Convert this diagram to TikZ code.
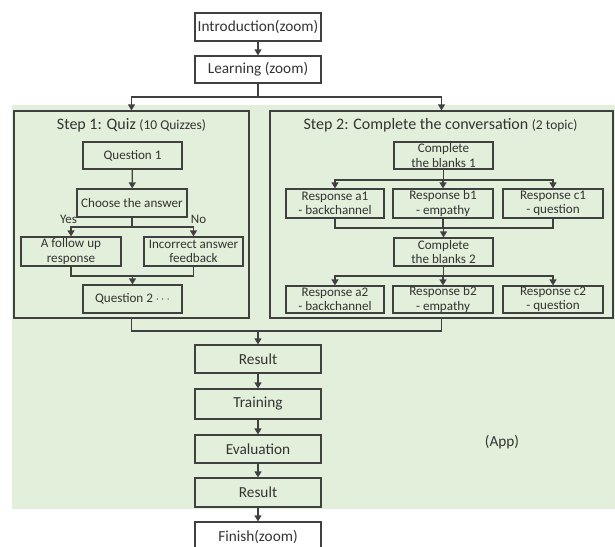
\documentclass[tikz,border=0pt]{standalone}
\usepackage{fontspec}
\setmainfont{Carlito}
\usetikzlibrary{arrows.meta}
\definecolor{linec}{HTML}{404040}
\definecolor{txtc}{HTML}{333333}
\definecolor{bggreen}{HTML}{E2EFDA}
\tikzset{
  box/.style={draw=linec, line width=1.2pt, inner sep=0pt, align=center, text=txtc,
    font=\fontsize{15.3}{18}\selectfont},
  sbox/.style={box, font=\fontsize{13.1}{14.4}\selectfont},
  frame/.style={draw=linec, line width=1.2pt, inner sep=0pt},
  conn/.style={draw=linec, line width=1.2pt},
  arr/.style={conn, -{Triangle[length=6pt,width=7pt]}},
  lbl/.style={text=txtc, inner sep=0pt},
}
\begin{document}
\begin{tikzpicture}[x=1pt,y=-1pt]
\useasboundingbox (0,0) rectangle (615,546);
\clip (0,0) rectangle (615,546);
% background
\fill[bggreen] (12,105) rectangle (615,509);

% top column
\node[box, minimum width=126pt, minimum height=28pt] (intro) at (258,27) {Introduction(zoom)};
\node[box, minimum width=126pt, minimum height=27pt] (learn) at (258,69.5) {Learning (zoom)};

% step frames
\node[frame, minimum width=235pt, minimum height=207pt] (step1) at (131.5,214.5) {};
\node[frame, minimum width=343pt, minimum height=207pt] (step2) at (441.5,214.5) {};
\node[lbl] (t1) at (131.5,125) {\fontsize{16}{19}\selectfont Step 1: Quiz {\fontsize{13.5}{16}\selectfont (10 Quizzes)}};
\node[lbl] (t2) at (440.5,125) {\fontsize{16}{19}\selectfont Step 2: Complete the conversation {\fontsize{13.5}{16}\selectfont (2 topic)}};

% step 1 contents
\node[sbox, minimum width=99pt, minimum height=27pt] (q1) at (132.5,155.5) {Question 1};
\node[sbox, minimum width=110pt, minimum height=28pt] (choose) at (132,203) {Choose the answer};
\node[sbox, minimum width=100pt, minimum height=29pt] (follow) at (71,251.5) {A follow up\\response};
\node[sbox, minimum width=99pt, minimum height=29pt] (incorr) at (193.5,251.5) {Incorrect answer\\feedback};
\node[sbox, minimum width=99pt, minimum height=28pt] (q2) at (132.5,299) {Question 2 \raisebox{0.5pt}{$\cdots$}};
\node[lbl, font=\fontsize{13}{15}\selectfont] (yes) at (68.5,219.5) {Yes};
\node[lbl, font=\fontsize{13}{15}\selectfont] (no) at (198.5,219.5) {No};

% step 2 contents
\node[sbox, minimum width=99pt, minimum height=27pt] (cb1) at (443.5,155.5) {Complete\\the blanks 1};
\node[sbox, minimum width=98pt, minimum height=29pt] (a1) at (335,203.5) {Response a1\\- backchannel};
\node[sbox, minimum width=100pt, minimum height=29pt] (b1) at (443,203.5) {Response b1\\- empathy};
\node[sbox, minimum width=100pt, minimum height=29pt] (c1) at (553,203.5) {Response c1\\- question};
\node[sbox, minimum width=99pt, minimum height=28pt] (cb2) at (443.5,252) {Complete\\the blanks 2};
\node[sbox, minimum width=98pt, minimum height=27pt] (a2) at (335,299.5) {Response a2\\- backchannel};
\node[sbox, minimum width=100pt, minimum height=27pt] (b2) at (443,299.5) {Response b2\\- empathy};
\node[sbox, minimum width=100pt, minimum height=27pt] (c2) at (553,299.5) {Response c2\\- question};

% bottom column
\node[box, minimum width=126pt, minimum height=28pt] (res1) at (258,359) {Result};
\node[box, minimum width=126pt, minimum height=30pt] (train) at (258,404) {Training};
\node[box, minimum width=126pt, minimum height=28pt] (eval) at (258,449) {Evaluation};
\node[box, minimum width=126pt, minimum height=29pt] (res2) at (258,492.5) {Result};
\node[box, minimum width=126pt, minimum height=30pt] (finish) at (258,537) {Finish(zoom)};
\node[lbl, font=\fontsize{15.3}{18}\selectfont] (app) at (502,442) {(App)};

% connectors: top
\draw[arr] (intro) -- (learn);
\coordinate (sp) at (258,97);
\draw[conn] (learn.south) -- (sp);
\draw[arr] (sp) -| (step1.north);
\draw[arr] (sp) -| (step2.north);

% step 1
\draw[arr] (q1) -- (choose);
\coordinate (br1) at (132,227);
\draw[conn] (choose.south) -- (br1);
\draw[arr] (br1) -| (follow.north);
\draw[arr] (br1) -| (incorr.north);
\coordinate (mg1) at (132.5,276);
\draw[conn] (follow.south) |- (mg1) -| (incorr.south);
\draw[arr] (mg1) -- (q2.north);

% step 2
\coordinate (br2) at (443.5,180);
\draw[conn] (cb1.south) -- (br2);
\draw[arr] (br2) -| (a1.north);
\draw[arr] (br2) -| (b1.north);
\draw[arr] (br2) -| (c1.north);
\coordinate (mg2) at (443.5,228);
\draw[conn] (a1.south) |- (mg2) -| (c1.south);
\draw[conn] (b1.south) -- (b1.south |- mg2);
\draw[arr] (mg2) -- (cb2.north);
\coordinate (br3) at (443.5,276);
\draw[conn] (cb2.south) -- (br3);
\draw[arr] (br3) -| (a2.north);
\draw[arr] (br3) -| (b2.north);
\draw[arr] (br3) -| (c2.north);

% merge to result
\coordinate (mg3) at (258,331);
\draw[conn] (step1.south) |- (mg3) -| (step2.south);
\draw[arr] (mg3) -- (res1.north);
\draw[arr] (res1) -- (train);
\draw[arr] (train) -- (eval);
\draw[arr] (eval) -- (res2);
\draw[arr] (res2) -- (finish);
\end{tikzpicture}
\end{document}
